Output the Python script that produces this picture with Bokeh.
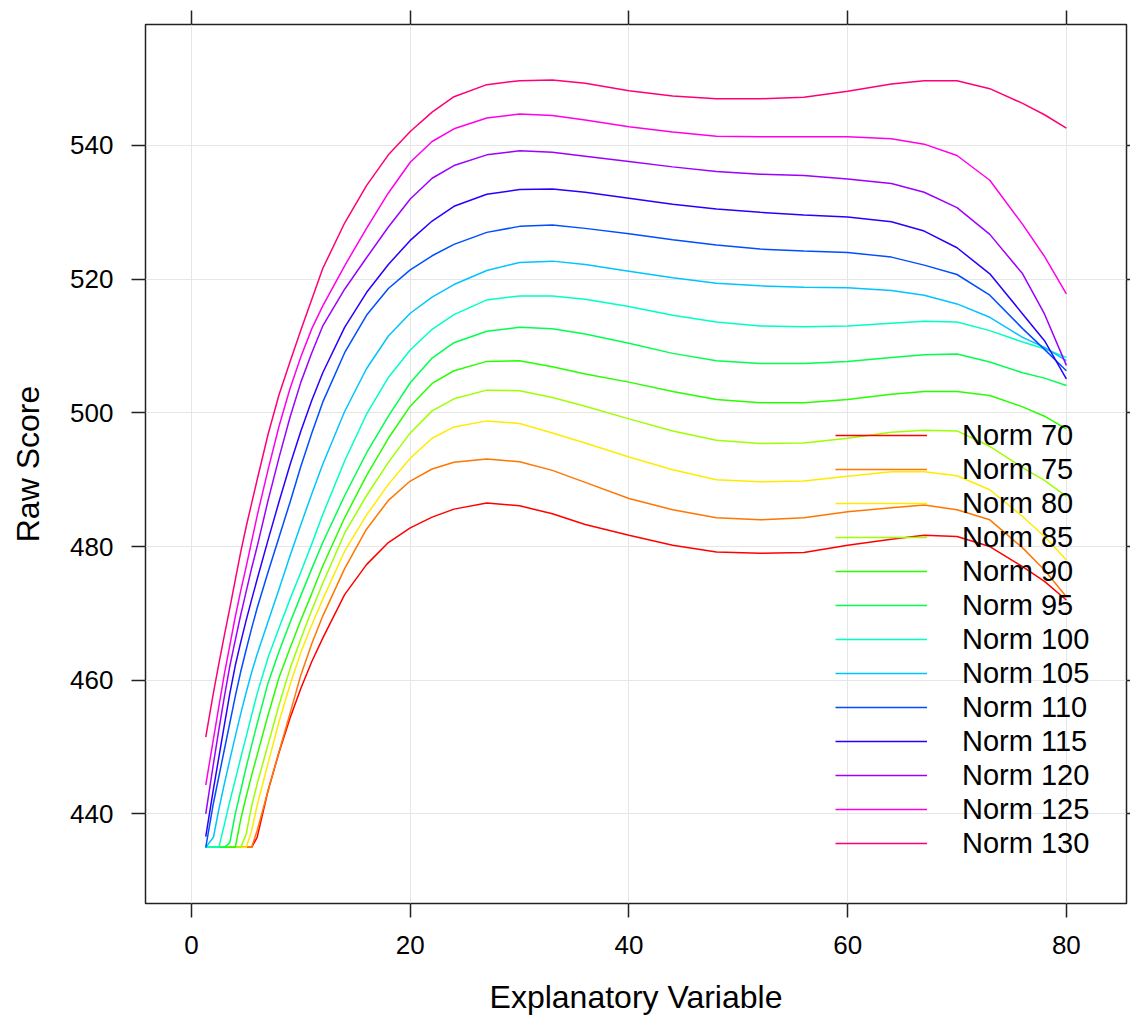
from bokeh.plotting import figure
from bokeh.models import Range1d, FixedTicker, LinearAxis, Legend, LegendItem
from bokeh.embed import file_html
from bokeh.resources import INLINE

# ---------------- data ----------------
x_values = [1.3, 2, 2.5, 3, 3.5, 4, 4.5, 5, 5.5, 6, 7, 8, 9, 10, 11, 12, 14, 16, 18, 20,
            22, 24, 27, 30, 33, 36, 40, 44, 48, 52, 56, 60, 64, 67, 70, 73, 76, 78, 80]

norm_70 = [435, 435, 435, 435, 435, 435, 435, 435, 435, 436.5, 443.5, 449.2, 454.3, 458.8, 462.8, 466.3,
           472.8, 477.3, 480.6, 482.8, 484.4, 485.6, 486.5, 486.1, 484.9, 483.3, 481.7, 480.2, 479.2, 479.0,
           479.1, 480.2, 481.1, 481.7, 481.5, 480.0, 477.0, 474.8, 472.0]
norm_75 = [435, 435, 435, 435, 435, 435, 435, 435, 435, 437.5, 443.5, 449.3, 455.0, 460.8, 465.5, 469.6,
           476.7, 482.6, 486.9, 489.8, 491.6, 492.6, 493.1, 492.7, 491.4, 489.6, 487.2, 485.5, 484.3, 484.0,
           484.3, 485.2, 485.8, 486.2, 485.5, 484.0, 479.8, 476.5, 472.5]
norm_80 = [435, 435, 435, 435, 435, 435, 435, 435, 437.5, 441.3, 447.6, 453.8, 459.3, 464.2, 468.3, 472.1,
           479.3, 484.7, 489.3, 493.2, 496.2, 497.9, 498.8, 498.4, 497.0, 495.5, 493.4, 491.5, 490.0, 489.7,
           489.8, 490.5, 491.2, 491.2, 490.6, 488.5, 484.5, 481.5, 478.0]
norm_85 = [435, 435, 435, 435, 435, 435, 435, 437.0, 441.2, 444.5, 450.4, 456.3, 461.7, 466.2, 470.5, 474.5,
           482.0, 487.6, 492.6, 497.0, 500.3, 502.1, 503.4, 503.3, 502.3, 501.0, 499.1, 497.3, 495.9, 495.4,
           495.5, 496.2, 497.1, 497.4, 497.3, 495.0, 491.8, 489.9, 487.5]
norm_90 = [435, 435, 435, 435, 435, 435, 439.2, 442.6, 445.8, 448.8, 454.8, 460.4, 464.8, 469.0, 473.0, 477.1,
           484.3, 490.6, 496.2, 501.0, 504.4, 506.3, 507.7, 507.8, 506.9, 505.8, 504.6, 503.2, 502.0, 501.5,
           501.5, 502.0, 502.8, 503.2, 503.2, 502.6, 500.9, 499.5, 497.6]
norm_95 = [435, 435, 435, 435, 435.7, 440.0, 443.5, 447.0, 450.3, 453.5, 459.6, 464.3, 468.6, 472.7, 476.7, 480.6,
           487.6, 494.0, 499.5, 504.5, 508.2, 510.5, 512.2, 512.8, 512.6, 511.8, 510.4, 508.9, 507.8, 507.4,
           507.4, 507.7, 508.3, 508.7, 508.8, 507.6, 506.0, 505.2, 504.1]
norm_100 = [435, 435, 435, 438.4, 441.9, 445.1, 448.4, 451.6, 454.8, 458.0, 463.4, 467.8, 472.1, 476.2, 480.4, 484.8,
            492.8, 499.8, 505.3, 509.4, 512.5, 514.7, 516.9, 517.5, 517.5, 517.0, 515.9, 514.6, 513.6, 513.0,
            512.9, 513.0, 513.4, 513.7, 513.6, 512.3, 510.6, 509.6, 508.3]
norm_105 = [435, 436.5, 440.7, 444.5, 448.1, 451.6, 455.0, 458.2, 461.2, 463.9, 468.8, 473.6, 478.6, 483.3, 487.9, 492.3,
            500.2, 506.6, 511.5, 514.9, 517.3, 519.2, 521.3, 522.5, 522.7, 522.2, 521.2, 520.2, 519.4, 519.0,
            518.8, 518.7, 518.3, 517.6, 516.3, 514.3, 511.3, 509.8, 507.8]
norm_110 = [435, 441.6, 445.6, 449.6, 453.6, 457.6, 461.3, 464.6, 467.8, 470.8, 476.2, 481.4, 486.6, 492.0, 497.0, 501.6,
            509.0, 514.6, 518.6, 521.4, 523.5, 525.2, 527.0, 527.9, 528.1, 527.6, 526.8, 525.9, 525.1, 524.5,
            524.2, 524.0, 523.3, 522.1, 520.7, 517.6, 512.6, 509.5, 506.3]
norm_115 = [436.6, 443.7, 448.5, 453.3, 458.0, 462.2, 465.7, 469.0, 472.1, 475.1, 481.0, 486.7, 492.2, 497.3, 501.9, 506.0,
            512.8, 518.0, 522.2, 525.8, 528.7, 530.9, 532.7, 533.4, 533.5, 533.0, 532.1, 531.2, 530.5, 530.0,
            529.6, 529.3, 528.6, 527.2, 524.7, 520.8, 514.8, 510.8, 505.1]
norm_120 = [440.0, 447.5, 452.6, 457.5, 462.1, 466.0, 469.8, 473.3, 476.8, 480.0, 486.9, 493.3, 499.3, 504.6, 509.0, 513.0,
            518.5, 523.2, 527.8, 532.0, 535.1, 537.0, 538.6, 539.2, 539.0, 538.4, 537.6, 536.8, 536.1, 535.7,
            535.5, 535.0, 534.3, 533.0, 530.7, 526.7, 520.8, 514.8, 507.1]
norm_125 = [444.3, 451.2, 456.1, 460.9, 465.2, 469.5, 473.4, 477.0, 480.8, 484.6, 491.5, 498.0, 503.6, 508.4, 512.6, 516.0,
            522.0, 527.6, 532.9, 537.5, 540.6, 542.5, 544.1, 544.7, 544.5, 543.8, 542.8, 542.0, 541.4, 541.3,
            541.3, 541.3, 541.0, 540.2, 538.5, 534.8, 528.2, 523.4, 517.8]
norm_130 = [451.5, 458.1, 462.5, 466.7, 470.8, 475.0, 479.2, 483.0, 486.5, 490.0, 496.8, 502.7, 507.6, 512.4, 517.0, 521.6,
            528.4, 534.0, 538.6, 542.1, 545.0, 547.3, 549.1, 549.7, 549.8, 549.3, 548.2, 547.4, 547.0, 547.0,
            547.2, 548.1, 549.2, 549.7, 549.7, 548.5, 546.3, 544.6, 542.6]

series_names = ["Norm 70", "Norm 75", "Norm 80", "Norm 85", "Norm 90", "Norm 95", "Norm 100",
                "Norm 105", "Norm 110", "Norm 115", "Norm 120", "Norm 125", "Norm 130"]
series_values = [norm_70, norm_75, norm_80, norm_85, norm_90, norm_95, norm_100,
                 norm_105, norm_110, norm_115, norm_120, norm_125, norm_130]
series_colors = ["#FF0000", "#FF7600", "#FFEB00", "#9DFF00", "#27FF00", "#00FF4E", "#00FFC4",
                 "#00C4FF", "#004EFF", "#2700FF", "#9D00FF", "#FF00EB", "#FF0076"]

x_ticks = [0, 20, 40, 60, 80]
y_ticks = [440, 460, 480, 500, 520, 540]

FONT = "Liberation Sans"
DARK = "#222222"

# ---------------- figure ----------------
p = figure(width=1130, height=1020, output_backend="svg", toolbar_location=None,
           x_range=Range1d(-4.21, 85.5), y_range=Range1d(426.6, 558.1),
           min_border_left=145, min_border_right=4, min_border_top=24, min_border_bottom=117)

p.background_fill_color = "white"
p.border_fill_color = "white"
p.outline_line_color = DARK
p.outline_line_width = 1.5

for ax, ticks in ((p.xaxis[0], x_ticks), (p.yaxis[0], y_ticks)):
    ax.ticker = FixedTicker(ticks=ticks)
    ax.axis_line_color = None
    ax.major_tick_out = 14
    ax.major_tick_in = 0
    ax.minor_tick_line_color = None
    ax.major_tick_line_color = DARK
    ax.major_tick_line_width = 1.5
    ax.major_label_text_font = FONT
    ax.major_label_text_font_size = "26px"
    ax.major_label_text_color = "black"
    ax.axis_label_text_font = FONT
    ax.axis_label_text_font_size = "32px"
    ax.axis_label_text_font_style = "normal"
    ax.axis_label_text_color = "black"

p.xaxis.axis_label = "Explanatory Variable"
p.xaxis.major_label_standoff = 18
p.xaxis.axis_label_standoff = 22
p.yaxis.axis_label = "Raw Score"
p.yaxis.major_label_standoff = 18
p.yaxis.axis_label_standoff = 21
p.yaxis.major_label_orientation = "horizontal"

# tick-only axes on the top and right sides (labels not drawn)
top_axis = LinearAxis(ticker=FixedTicker(ticks=x_ticks), axis_line_color=None,
                      major_tick_out=14, major_tick_in=0, minor_tick_line_color=None,
                      major_tick_line_color=DARK, major_tick_line_width=1.5,
                      major_label_text_color=None, major_label_text_font_size="1px",
                      major_label_standoff=0)
p.add_layout(top_axis, "above")
right_axis = LinearAxis(ticker=FixedTicker(ticks=y_ticks), axis_line_color=None,
                        major_tick_out=4, major_tick_in=0, minor_tick_line_color=None,
                        major_tick_line_color=DARK, major_tick_line_width=1.5,
                        major_label_text_color=None, major_label_text_font_size="1px",
                        major_label_standoff=0)
p.add_layout(right_axis, "right")

p.xgrid.ticker = FixedTicker(ticks=x_ticks)
p.ygrid.ticker = FixedTicker(ticks=y_ticks)
p.xgrid.grid_line_color = "#E6E6E6"
p.ygrid.grid_line_color = "#E6E6E6"
p.xgrid.grid_line_width = 1
p.ygrid.grid_line_width = 1

items = []
for name, vals, col in zip(series_names, series_values, series_colors):
    r = p.line(x_values, vals, line_color=col, line_width=1.5)
    items.append(LegendItem(label=name, renderers=[r]))

legend = Legend(items=items, location=(690, 43), padding=0, margin=0, spacing=0,
                glyph_width=92, glyph_height=34, label_height=34, label_standoff=35,
                label_text_font=FONT, label_text_font_size="29px", label_text_color="black",
                border_line_color=None, background_fill_alpha=0)
p.add_layout(legend)

open("out.html", "w").write(file_html(p, INLINE))
